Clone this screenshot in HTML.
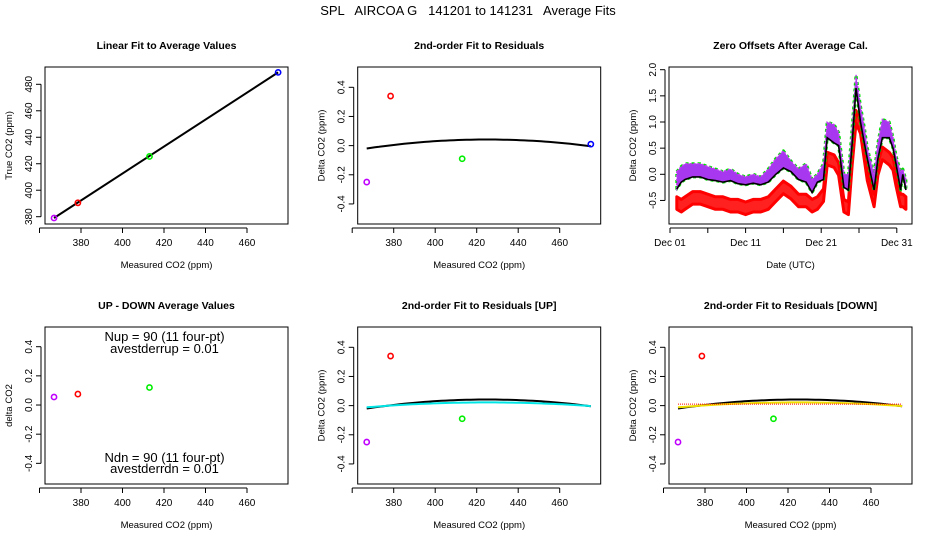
<!DOCTYPE html>
<html><head><meta charset="utf-8"><style>
body{margin:0;background:#fff;}
svg{display:block;font-family:"Liberation Sans",sans-serif;}
</style></head><body>
<svg id="c" width="936" height="540" viewBox="0 0 936 540">
<text x="468" y="15" text-anchor="middle" font-size="13" xml:space="preserve">SPL   AIRCOA G   141201 to 141231   Average Fits</text>
</svg>
<script>
// ---- data ----
const measured = [367, 378.5, 413, 475];
const trueVals = [379, 390.5, 425.5, 489];
const ptColors = ['#c000ff', '#ff0000', '#00ee00', '#0000ff'];
const residuals = [-0.25, 0.34, -0.09, 0.01];
const udX = [367, 378.5, 413];
const udY = [0.055, 0.075, 0.12];
const fitCoef = [0.042, 425, 1.84e-5];      // peak value, peak x, curvature
const fitUpCoef = [0.022, 425, 1.0e-5];
const fitDnCoef = [0.022, 425, 1.0e-5];
const zeroLineDn = 0.01;
const days = [1.9,2.5,3,4,5,6,7,8,9,10,11,12,13,14,15,16,17,18,19,19.8,20.5,21.3,21.8,22.7,23.3,24,24.6,25.1,25.6,26.2,26.7,27.1,28,28.5,29.1,30,30.5,30.9,31.5,31.8,32.2];
const blackVals = [-0.28,-0.15,-0.1,-0.05,-0.05,-0.1,-0.12,-0.15,-0.12,-0.18,-0.2,-0.17,-0.2,-0.15,0.0,0.12,0.05,-0.1,-0.15,-0.35,-0.15,-0.1,0.7,0.6,0.55,-0.25,-0.3,0.6,1.65,1.0,0.6,0.3,-0.3,0.3,0.7,0.7,0.5,0.2,-0.3,0.0,-0.3];
const purpleTop = [0.05,0.15,0.2,0.2,0.2,0.15,0.1,0.05,0.1,0.0,-0.05,0.0,-0.05,0.1,0.3,0.45,0.25,0.1,0.2,-0.1,0.0,0.2,1.0,0.95,0.8,0.0,0.0,0.9,1.9,1.3,0.9,0.5,0.0,0.6,1.05,1.0,0.7,0.35,0.05,0.1,-0.1];
const redVals = [-0.55,-0.6,-0.55,-0.45,-0.45,-0.5,-0.55,-0.55,-0.6,-0.6,-0.65,-0.6,-0.6,-0.55,-0.4,-0.25,-0.35,-0.5,-0.5,-0.6,-0.55,-0.4,0.3,0.25,0.1,-0.6,-0.65,0.3,1.1,0.9,0.4,0.0,-0.5,0.1,0.4,0.3,0.2,-0.1,-0.5,-0.5,-0.55];
const xTicksCO2 = [360,380,400,420,440,460];
const yTicksTrue = [380,400,420,440,460,480];
const yTicksRes = [-0.4,-0.2,0.0,0.2,0.4];
const yTicksZero = [-0.5,0.0,0.5,1.0,1.5,2.0];
const dayTicks = [1,6,11,16,21,26,31];
const dayLabels = {1:'Dec 01',11:'Dec 11',21:'Dec 21',31:'Dec 31'};

const NS='http://www.w3.org/2000/svg';
const svg=document.getElementById('c');
function el(tag,attrs,parent,txt){const e=document.createElementNS(NS,tag);for(const k in attrs)e.setAttribute(k,attrs[k]);if(txt!==undefined)e.textContent=txt;(parent||svg).appendChild(e);return e;}
const colX=[0,312.7,624], rowY=[0,260];

function panel(col,row,name,title,xlab,ylab){
  const ox=colX[col], oy=rowY[row];
  const g=el('g',{});
  
  
  const b={x0:45+ox,x1:288+ox,y0:67+oy,y1:224+oy,ox,oy,g};
  const r=el('rect',{x:b.x0,y:b.y0,width:b.x1-b.x0,height:b.y1-b.y0,fill:'none',stroke:'#000','stroke-width':1},g);
  
  const t=el('text',{x:(b.x0+b.x1)/2,y:49+oy,'text-anchor':'middle','font-size':10.5,'font-weight':'bold'},g,title);
  
  const xl=el('text',{x:(b.x0+b.x1)/2,y:268+oy,'text-anchor':'middle','font-size':9.5},g,xlab);
  
  const yl=el('text',{x:0,y:0,'text-anchor':'middle','font-size':9.5,transform:`translate(${12+ox},${(b.y0+b.y1)/2}) rotate(-90)`},g,ylab);
  
  return b;
}
function xAxis(b,ticks,xs,labelFn){
  const y=b.y1+4;
  const a=el('g',{},b.g);
  
  el('line',{x1:xs(ticks[0]),x2:xs(ticks[ticks.length-1]),y1:y,y2:y,stroke:'#000'},a);
  ticks.forEach(v=>{const x=xs(v);el('line',{x1:x,x2:x,y1:y,y2:y+5,stroke:'#000'},a);
    const L=labelFn(v);if(L){const t=el('text',{x:x,y:y+18,'text-anchor':'middle','font-size':10},a,L);
    }});
}
function yAxis(b,ticks,ys,fmt){
  const x=b.x0-4;
  const a=el('g',{},b.g);
  
  el('line',{x1:x,x2:x,y1:ys(ticks[0]),y2:ys(ticks[ticks.length-1]),stroke:'#000'},a);
  ticks.forEach(v=>{const y=ys(v);el('line',{x1:x,x2:x-5,y1:y,y2:y,stroke:'#000'},a);
    const t=el('text',{x:0,y:0,'text-anchor':'middle','font-size':10,transform:`translate(${x-9},${y}) rotate(-90)`},a,fmt(v));
    });
}
function pt(b,x,y,c,name){const p=el('circle',{cx:x,cy:y,r:2.6,fill:'none',stroke:c,'stroke-width':1.6},b.g);
  }
function curve(b,xs,ys,coef,stroke,w,name,dash){let d='';for(let v=367;v<=475;v+=2){const y=coef[0]-coef[2]*(v-coef[1])**2;d+=(d?'L':'M')+xs(v).toFixed(1)+','+ys(y).toFixed(1);}
  const p=el('path',{d,fill:'none',stroke,'stroke-width':w},b.g);if(dash)p.setAttribute('stroke-dasharray',dash);
  }
const f1=v=>v.toFixed(1);
const xsF=b=>v=>81+b.ox+(v-380)*2.075;
const co2Lab=v=>v===360?'':String(v);

// Panel 1
{const b=panel(0,0,'linear-fit-panel','Linear Fit to Average Values','Measured CO2 (ppm)','True CO2 (ppm)');
 const xs=xsF(b), ys=v=>216.7+b.oy-(v-380)*1.324;
 xAxis(b,xTicksCO2,xs,co2Lab); yAxis(b,yTicksTrue,ys,String);
 const slope=(trueVals[3]-trueVals[0])/(measured[3]-measured[0]);
 const ln=el('line',{x1:xs(measured[0]),y1:ys(trueVals[0]),x2:xs(measured[3]),y2:ys(trueVals[0]+slope*(measured[3]-measured[0])),stroke:'#000','stroke-width':2},b.g);
 
 measured.forEach((m,i)=>pt(b,xs(m),ys(trueVals[i]),ptColors[i],'point-'+i));}
// Panel 2
{const b=panel(1,0,'residual-fit-panel','2nd-order Fit to Residuals','Measured CO2 (ppm)','Delta CO2 (ppm)');
 const xs=xsF(b), ys=v=>87.3+b.oy+(0.4-v)*145.8;
 xAxis(b,xTicksCO2,xs,co2Lab); yAxis(b,yTicksRes,ys,f1);
 curve(b,xs,ys,fitCoef,'#000',2,'fit-curve');
 measured.forEach((m,i)=>pt(b,xs(m),ys(residuals[i]),ptColors[i],'point-'+i));}
// Panel 3
{const b=panel(2,0,'zero-offsets-panel','Zero Offsets After Average Cal.','Date (UTC)','Delta CO2 (ppm)');
 const xs=d=>670+(d-1)*7.56, ys=v=>174.3+b.oy-v*52.3;
 xAxis(b,dayTicks,xs,d=>dayLabels[d]||''); yAxis(b,yTicksZero,ys,f1);
 const line=arr=>arr.map((v,i)=>(i?'L':'M')+xs(days[i]).toFixed(1)+','+ys(v).toFixed(1)).join('');
 const band=(hi,lo)=>hi.map((v,i)=>(i?'L':'M')+xs(days[i]).toFixed(1)+','+ys(v).toFixed(1)).join('')+lo.map((v,i)=>i).reverse().map(i=>'L'+xs(days[i]).toFixed(1)+','+ys(lo[i]).toFixed(1)).join('')+'Z';
 const redHi=redVals.map(v=>v+0.12), redLo=redVals.map(v=>v-0.12);
 let p=el('path',{d:band(redHi,redLo),fill:'#ff2020',stroke:'#ff0000','stroke-width':3,'stroke-linejoin':'round'},b.g);
 
 const pBot=blackVals.map(v=>v+0.0);
 p=el('path',{d:band(purpleTop,pBot),fill:'#a838f0',stroke:'#00e000','stroke-width':3,'stroke-dasharray':'3 3','stroke-linejoin':'round'},b.g);
 
 p=el('path',{d:band(purpleTop,pBot),fill:'#a838f0',stroke:'#c040f0','stroke-width':1.5,'stroke-dasharray':'2 2'},b.g);
 
 p=el('path',{d:line(blackVals),fill:'none',stroke:'#000','stroke-width':1.6},b.g);
 }
// Panel 4
{const b=panel(0,1,'up-down-panel','UP - DOWN Average Values','Measured CO2 (ppm)','delta CO2');
 const xs=xsF(b), ys=v=>346.7+(0.4-v)*145.8;
 xAxis(b,xTicksCO2,xs,co2Lab); yAxis(b,yTicksRes,ys,f1);
 udX.forEach((m,i)=>pt(b,xs(m),ys(udY[i]),ptColors[i],'point-'+i));
 [['Nup = 90 (11 four-pt)',341],['avestderrup =  0.01',353],['Ndn = 90 (11 four-pt)',462],['avestderrdn =  0.01',473]].forEach(([s,y])=>{
  const t=el('text',{x:(b.x0+b.x1)/2-2,y:y,'text-anchor':'middle','font-size':13},b.g,s);
  });}
// Panel 5
{const b=panel(1,1,'residual-fit-up-panel','2nd-order Fit to Residuals [UP]','Measured CO2 (ppm)','Delta CO2 (ppm)');
 const xs=xsF(b), ys=v=>347.3+(0.4-v)*145.8;
 xAxis(b,xTicksCO2,xs,co2Lab); yAxis(b,yTicksRes,ys,f1);
 curve(b,xs,ys,fitCoef,'#000',2,'fit-curve');
 curve(b,xs,ys,fitUpCoef,'#00e5e5',2,'up-fit-curve');
 measured.slice(0,3).forEach((m,i)=>pt(b,xs(m),ys(residuals[i]),ptColors[i],'point-'+i));}
// Panel 6
{const b=panel(2,1,'residual-fit-down-panel','2nd-order Fit to Residuals [DOWN]','Measured CO2 (ppm)','Delta CO2 (ppm)');
 const xs=xsF(b), ys=v=>347.3+(0.4-v)*145.8;
 xAxis(b,xTicksCO2,xs,co2Lab); yAxis(b,yTicksRes,ys,f1);
 curve(b,xs,ys,fitCoef,'#000',2,'fit-curve');
 curve(b,xs,ys,fitDnCoef,'#f0e000',2,'down-fit-curve');
 const zl=el('line',{x1:xs(367),x2:xs(475),y1:ys(zeroLineDn),y2:ys(zeroLineDn),stroke:'#ff0000','stroke-dasharray':'1 1'},b.g);
 
 measured.slice(0,3).forEach((m,i)=>pt(b,xs(m),ys(residuals[i]),ptColors[i],'point-'+i));}
</script>
</body></html>
